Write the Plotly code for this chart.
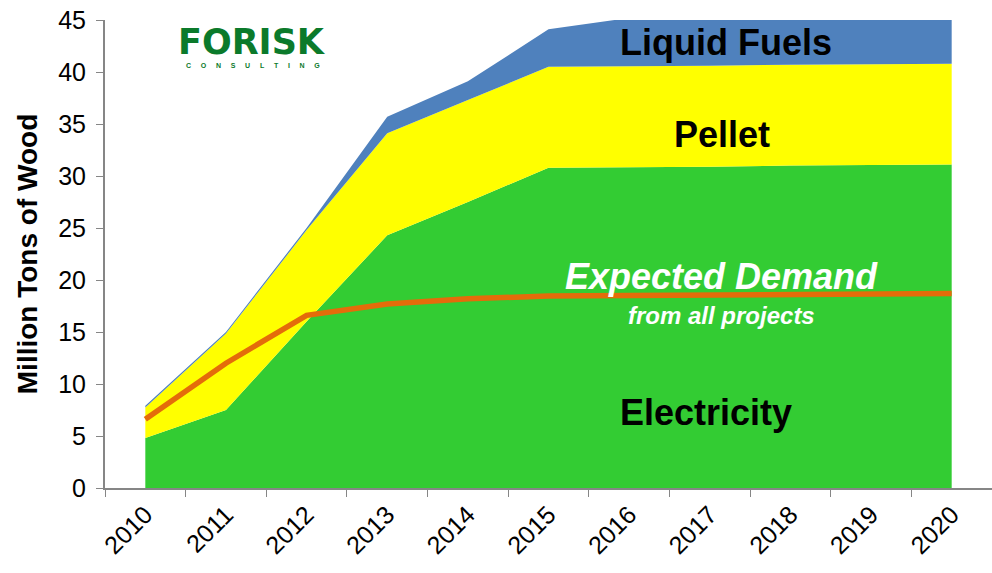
import plotly.graph_objects as go

years = ["2010", "2011", "2012", "2013", "2014", "2015", "2016", "2017", "2018", "2019", "2020"]
electricity = [4.8, 7.5, 16.0, 24.3, 27.5, 30.8, 30.85, 30.9, 31.0, 31.05, 31.1]
pellet = [2.95, 7.35, 8.8, 9.8, 9.8, 9.7, 9.7, 9.7, 9.7, 9.7, 9.7]
liquid_fuels = [0.15, 0.15, 0.2, 1.6, 1.8, 3.6, 4.65, 4.6, 4.5, 4.45, 4.4]
expected_demand = [6.6, 12.0, 16.6, 17.7, 18.2, 18.45, 18.5, 18.55, 18.6, 18.65, 18.7]

FONT = "Liberation Sans, Arial, sans-serif"

fig = go.Figure()
fig.add_trace(go.Scatter(x=years, y=electricity, stackgroup="s", mode="none",
                         fillcolor="#33CC33", name="Electricity"))
fig.add_trace(go.Scatter(x=years, y=pellet, stackgroup="s", mode="none",
                         fillcolor="#FFFF00", name="Pellet"))
fig.add_trace(go.Scatter(x=years, y=liquid_fuels, stackgroup="s", mode="none",
                         fillcolor="#4F81BD", name="Liquid Fuels"))
fig.add_trace(go.Scatter(x=years, y=expected_demand, mode="lines",
                         line=dict(color="#E46C0A", width=5.5), name="Expected Demand"))

def label(text, x, y, size, color="black", italic=False):
    t = f"<b>{text}</b>"
    if italic:
        t = f"<i>{t}</i>"
    fig.add_annotation(x=x, y=y, xref="x", yref="y", text=t, showarrow=False,
                       xanchor="center", yanchor="middle",
                       font=dict(family=FONT, size=size, color=color))

label("Liquid Fuels", 7.2, 42.8, 36)
label("Pellet", 7.15, 34.0, 36)
label("Expected Demand", 7.15, 20.3, 36, color="white", italic=True)
label("from all projects", 7.15, 16.6, 24, color="white", italic=True)
label("Electricity", 6.95, 7.3, 36)

# logo
fig.add_annotation(xref="paper", yref="paper", x=(252 - 105) / 887, y=(488 - 42) / 468,
                   xanchor="center", yanchor="middle",
                   text="<b>FORISK</b>", showarrow=False,
                   font=dict(family="DejaVu Sans", size=35, color="#0B7A2B"))
fig.add_annotation(xref="paper", yref="paper", x=(253 - 105) / 887, y=(488 - 65) / 468,
                   xanchor="center", yanchor="middle",
                   text="<b>" + "\u00a0\u00a0\u00a0\u00a0\u00a0".join("CONSULTING") + "</b>", showarrow=False,
                   font=dict(family=FONT, size=7, color="#0B7A2B"))

fig.update_layout(
    width=992, height=573,
    margin=dict(l=105, r=0, t=20, b=85),
    paper_bgcolor="white", plot_bgcolor="white",
    showlegend=False,
    font=dict(family=FONT, size=26, color="black"),
)
fig.update_xaxes(type="category", tickson="boundaries", ticks="outside", ticklen=7,
                 tickcolor="#868686", showline=True, linecolor="#868686", linewidth=2,
                 showgrid=False, tickangle=-45, range=[-0.5, 10.5], automargin=False,
                 ticklabeloverflow="allow",
                 tickfont=dict(family=FONT, size=25))
fig.update_yaxes(range=[0, 45], dtick=5, ticks="outside", ticklen=7, tickcolor="#868686",
                 showline=True, linecolor="#868686", linewidth=2, showgrid=False,
                 zeroline=False, automargin=False, tickfont=dict(family=FONT, size=25),
                 ticklabelstandoff=5, ticklabeloverflow="allow",
                 title=dict(text="<b>Million Tons of Wood</b>", font=dict(family=FONT, size=28),
                            standoff=12))

# remove the browser's default 8px body margin so the figure fills the window
fig.write_html("out.html", config={"displayModeBar": False},
               post_script="document.body.style.margin='0';")
